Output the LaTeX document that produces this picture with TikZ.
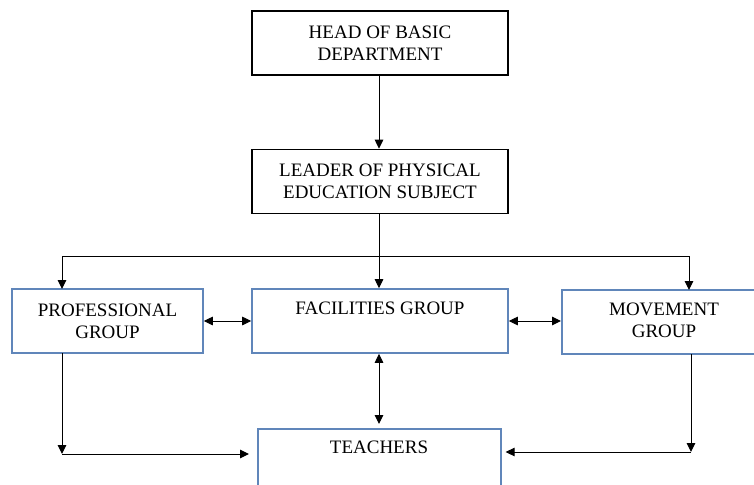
\documentclass[tikz,border=0pt]{standalone}
\usepackage{fontspec}
\setmainfont{Liberation Serif}
\usetikzlibrary{arrows.meta}
\definecolor{boxblue}{RGB}{96,134,186}
\tikzset{
  blackbox/.style={draw=black, line width=1.6pt, minimum width=256pt, minimum height=64pt, inner sep=0pt, align=center, font=\fontsize{19}{22}\selectfont},
  bluebox/.style={draw=boxblue, line width=1.6pt, inner sep=0pt, align=center, font=\fontsize{19}{22}\selectfont},
  txt/.style={inner sep=0pt, font=\fontsize{19}{22}\selectfont},
  conn/.style={draw=black, line width=1pt},
  arr/.style={conn, -{Triangle[length=9pt,width=8.5pt]}},
  darr/.style={conn, {Triangle[length=9pt,width=8.5pt]}-{Triangle[length=9pt,width=8.5pt]}}
}
\begin{document}
\begin{tikzpicture}[x=1pt,y=-1pt]
\useasboundingbox (0,0) rectangle (754,484);
\clip (0,0) rectangle (754,484);
\fill[white] (0,0) rectangle (754,484);

\node[blackbox] (head) at (380,43) {HEAD OF BASIC\\DEPARTMENT};
\node[blackbox] (leader) at (380,181.5) {LEADER OF PHYSICAL\\EDUCATION SUBJECT};

\node[bluebox, minimum width=191pt, minimum height=64pt] (prof) at (107.5,321) {PROFESSIONAL\\GROUP};
\node[bluebox, minimum width=256pt, minimum height=64pt] (fac) at (380,321) {};
\node[txt] (factext) at (380,308) {FACILITIES GROUP};
\node[bluebox, minimum width=210pt, minimum height=64pt, anchor=west] (mov) at (561,322) {};
\node[txt, align=center] (movtext) at (664,320) {MOVEMENT\\GROUP};
\node[bluebox, minimum width=243pt, minimum height=80pt, anchor=north west] (teach) at (257,428) {};
\node[txt] (teachtext) at (379,447) {TEACHERS};

% top connectors
\coordinate (jm) at (379,256);
\coordinate (jl) at (62,256);
\coordinate (jr) at (689,256);
\coordinate (pl) at (62,454);
\coordinate (pr) at (691,452);
\coordinate (mtop) at (689,290);
\coordinate (mbot) at (691,354);
\coordinate (ptop) at (62,289);
\coordinate (pbot) at (62,353);

\draw[arr] (head.south -| jm) -- (leader.north -| jm);
\draw[conn] (leader.south -| jm) -- (jm);
\draw[conn] (jl) -- (jr);
\draw[arr] (jl) -- (ptop);
\draw[arr] (jm) -- (fac.north -| jm);
\draw[arr] (jr) -- (mtop);

% horizontal double arrows
\draw[darr] (prof.east) -- (fac.west);
\draw[darr] (fac.east) -- (mov.west |- fac.east);

% facilities <-> teachers
\draw[darr, shorten >=4pt] (fac.south -| jm) -- (teach.north -| jm);

% bottom connectors
\draw[arr] (pbot) -- (pl);
\draw[arr, shorten >=8pt] (pl) -- (pl -| teach.west);
\draw[arr] (mbot) -- (pr);
\draw[arr, shorten >=4pt] (pr) -- (pr -| teach.east);
\end{tikzpicture}
\end{document}
